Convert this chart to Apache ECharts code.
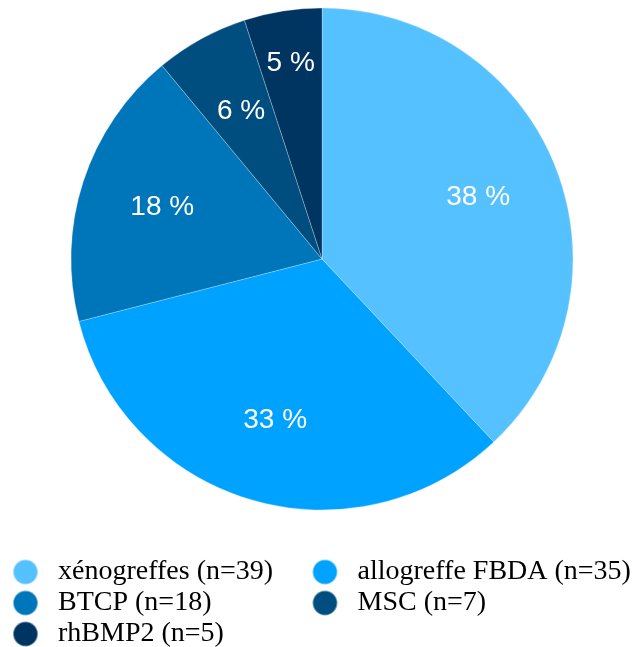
<!DOCTYPE html>
<html>
<head>
<meta charset="utf-8">
<script src="https://cdn.jsdelivr.net/npm/echarts@6/dist/echarts.min.js"></script>
<style>
html,body{margin:0;padding:0;background:#fff;}
#main{width:635px;height:647px;}
</style>
</head>
<body>
<div id="main"></div>
<script>
const categories = ['xénogreffes (n=39)', 'allogreffe FBDA (n=35)', 'BTCP (n=18)', 'MSC (n=7)', 'rhBMP2 (n=5)'];
const percentValues = [38, 33, 18, 6, 5];
const sliceColors = ['#56C1FF', '#00A2FF', '#0076BA', '#004D80', '#003461'];
const legendLeftColumn = ['xénogreffes (n=39)', 'BTCP (n=18)', 'rhBMP2 (n=5)'];
const legendRightColumn = ['allogreffe FBDA (n=35)', 'MSC (n=7)'];

const chart = echarts.init(document.getElementById('main'), null, {renderer: 'canvas'});

const pieData = categories.map((name, i) => ({
  name: name,
  value: percentValues[i],
  itemStyle: {color: sliceColors[i]}
}));
const labelData = categories.map((name, i) => ({
  name: name,
  value: percentValues[i]
}));

function legendItems(names) {
  return names.map(n => ({name: n, itemStyle: {color: sliceColors[categories.indexOf(n)]}}));
}

const legendCommon = {
  orient: 'vertical',
  top: 553,
  height: 120,
  icon: 'circle',
  itemWidth: 25,
  itemHeight: 25,
  itemGap: 3,
  selectedMode: false,
  textStyle: {
    fontFamily: '"Liberation Serif", "Times New Roman", serif',
    fontSize: 28,
    color: '#000',
    lineHeight: 25,
    height: 25,
    padding: [0, 0, 0, 15]
  }
};

chart.setOption({
  animation: false,
  legend: [
    Object.assign({}, legendCommon, {left: 7, data: legendItems(legendLeftColumn)}),
    Object.assign({}, legendCommon, {left: 306.5, data: legendItems(legendRightColumn)})
  ],
  series: [
    {
      type: 'pie',
      center: [322, 259],
      radius: [0, 251],
      startAngle: 90,
      clockwise: true,
      label: {show: false},
      labelLine: {show: false},
      itemStyle: {borderColor: 'rgba(255,255,255,0.45)', borderWidth: 0.6},
      emphasis: {disabled: true},
      data: pieData
    },
    {
      type: 'pie',
      center: [322, 259],
      radius: [79, 251],
      startAngle: 90,
      clockwise: true,
      silent: true,
      avoidLabelOverlap: false,
      itemStyle: {color: 'rgba(0,0,0,0)'},
      label: {
        show: true,
        position: 'inside',
        formatter: '{c} %',
        color: '#fff',
        fontSize: 28,
        fontFamily: '"Liberation Sans", Arial, Helvetica, sans-serif'
      },
      labelLine: {show: false},
      labelLayout: function (params) {
        if (params.dataIndex === 4) {
          return {dx: -5, dy: -30};
        }
      },
      emphasis: {disabled: true},
      data: labelData
    }
  ]
});
</script>
</body>
</html>
